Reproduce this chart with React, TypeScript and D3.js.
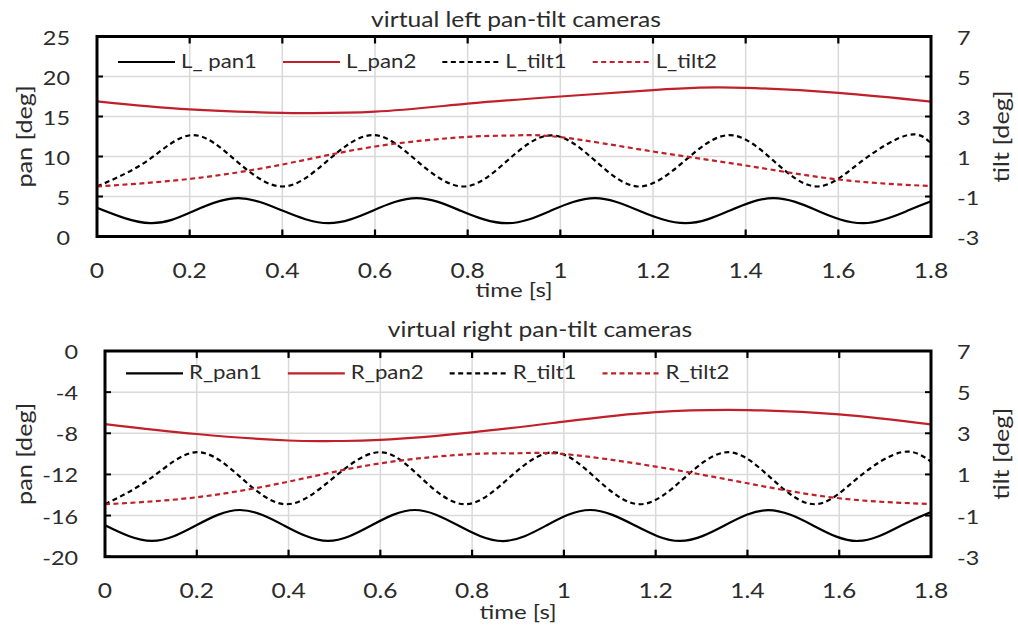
import React from "react";
import * as d3 from "d3";

// ---------- data ----------
const timeTicks = [0, 0.2, 0.4, 0.6, 0.8, 1, 1.2, 1.4, 1.6, 1.8];
const leftPanTicks = [0, 5, 10, 15, 20, 25];
const rightPanTicks = [-20, -16, -12, -8, -4, 0];
const tiltTicks = [-3, -1, 1, 3, 5, 7];

// virtual left pan-tilt cameras
const lPan1Time = [0, 0.115, 0.21, 0.305, 0.4, 0.5, 0.595, 0.69, 0.785, 0.885, 0.98, 1.075, 1.17, 1.27, 1.365, 1.46, 1.555, 1.655, 1.75, 1.8];
const lPan1 = [3.58, 1.67, 3.22, 4.79, 3.24, 1.67, 3.23, 4.8, 3.22, 1.66, 3.24, 4.79, 3.23, 1.67, 3.22, 4.8, 3.23, 1.67, 3.24, 4.4];
const lPan2Time = [0, 0.2, 0.4, 0.45, 0.6, 0.8, 1.0, 1.2, 1.3, 1.4, 1.6, 1.8];
const lPan2 = [16.9, 15.9, 15.45, 15.42, 15.6, 16.6, 17.5, 18.3, 18.6, 18.58, 17.95, 16.85];
const lTilt1Time = [0, 0.108, 0.205, 0.3, 0.4, 0.497, 0.595, 0.69, 0.79, 0.885, 0.98, 1.075, 1.17, 1.268, 1.365, 1.46, 1.555, 1.652, 1.75, 1.8];
const lTilt1 = [-0.5, 0.78, 2.07, 0.79, -0.5, 0.78, 2.07, 0.79, -0.5, 0.78, 2.06, 0.79, -0.5, 0.78, 2.07, 0.79, -0.5, 0.79, 2.07, 1.67];
const lTilt2Time = [0, 0.2, 0.4, 0.6, 0.8, 0.9, 1.0, 1.2, 1.4, 1.6, 1.8];
const lTilt2 = [-0.5, -0.12, 0.6, 1.5, 1.98, 2.05, 1.97, 1.25, 0.55, -0.15, -0.48];

// virtual right pan-tilt cameras
const rPan1Time = [0, 0.102, 0.198, 0.294, 0.39, 0.486, 0.58, 0.675, 0.77, 0.867, 0.962, 1.057, 1.155, 1.253, 1.35, 1.445, 1.543, 1.641, 1.735, 1.8];
const rPan1 = [-16.95, -18.47, -16.97, -15.46, -16.96, -18.47, -16.97, -15.46, -16.97, -18.48, -16.96, -15.46, -16.97, -18.47, -16.97, -15.47, -16.96, -18.47, -16.97, -15.65];
const rPan2Time = [0, 0.2, 0.4, 0.5, 0.6, 0.8, 1.0, 1.2, 1.4, 1.6, 1.8];
const rPan2 = [-7.1, -8.07, -8.7, -8.75, -8.65, -7.91, -6.87, -5.95, -5.74, -6.16, -7.13];
const rTilt1Time = [0, 0.1, 0.2, 0.298, 0.396, 0.497, 0.599, 0.69, 0.785, 0.88, 0.977, 1.07, 1.166, 1.262, 1.358, 1.452, 1.547, 1.64, 1.736, 1.8];
const rTilt1 = [-0.45, 0.82, 2.08, 0.81, -0.45, 0.82, 2.08, 0.81, -0.45, 0.82, 2.07, 0.81, -0.45, 0.82, 2.08, 0.81, -0.45, 0.82, 2.08, 1.62];
const rTilt2Time = [0, 0.2, 0.4, 0.6, 0.8, 0.9, 1.0, 1.2, 1.4, 1.6, 1.8];
const rTilt2 = [-0.45, -0.11, 0.65, 1.54, 1.99, 2.03, 1.99, 1.38, 0.57, -0.16, -0.44];

// ---------- style / layout ----------
const FONT = "Lato, 'Open Sans', sans-serif";
const SX = 1.2;
const RED = "#c0202a";
const TXT = "#2b2b2b";
const GRID = "#d9d9d9";

type Series = { name: string; t: number[]; v: number[]; color: string; dashed: boolean; axis: "pan" | "tilt" };

const panels = [
  {
    title: "virtual left pan-tilt cameras",
    titleX: 516, titleY: 26.7,
    left: 97, right: 931, top: 36.5, bottom: 236.5,
    panDomain: [0, 25], panTicks: leftPanTicks,
    legendY: 62,
    series: [
      { name: "L_ pan1", t: lPan1Time, v: lPan1, color: "#000", dashed: false, axis: "pan" },
      { name: "L_pan2", t: lPan2Time, v: lPan2, color: RED, dashed: false, axis: "pan" },
      { name: "L_tilt1", t: lTilt1Time, v: lTilt1, color: "#000", dashed: true, axis: "tilt" },
      { name: "L_tilt2", t: lTilt2Time, v: lTilt2, color: RED, dashed: true, axis: "tilt" },
    ] as Series[],
    timeLabelY: 297,
  },
  {
    title: "virtual right pan-tilt cameras",
    titleX: 540, titleY: 336.7,
    left: 105, right: 931, top: 351, bottom: 556.7,
    panDomain: [-20, 0], panTicks: rightPanTicks,
    legendY: 373.3,
    series: [
      { name: "R_pan1", t: rPan1Time, v: rPan1, color: "#000", dashed: false, axis: "pan" },
      { name: "R_pan2", t: rPan2Time, v: rPan2, color: RED, dashed: false, axis: "pan" },
      { name: "R_tilt1", t: rTilt1Time, v: rTilt1, color: "#000", dashed: true, axis: "tilt" },
      { name: "R_tilt2", t: rTilt2Time, v: rTilt2, color: RED, dashed: true, axis: "tilt" },
    ] as Series[],
    timeLabelY: 619,
  },
];

let measureCtx: CanvasRenderingContext2D | null = null;
function textWidth(s: string, size: number) {
  if (!measureCtx) measureCtx = document.createElement("canvas").getContext("2d");
  if (!measureCtx) return s.length * size * 0.5 * SX;
  measureCtx.font = `${size}px Lato`;
  return measureCtx.measureText(s).width * SX;
}

function T(props: { x: number; y: number; size: number; anchor?: string; rotate?: number; children: React.ReactNode }) {
  const { x, y, size, anchor = "start", rotate = 0, children } = props;
  const tr = `translate(${x},${y})` + (rotate ? ` rotate(${rotate})` : "") + ` scale(${SX},1)`;
  return (
    <text transform={tr} fontSize={size} textAnchor={anchor as any} fontFamily={FONT} fill={TXT}>
      {children}
    </text>
  );
}

function Panel({ p, idx }: { p: (typeof panels)[number]; idx: number }) {
  const x = d3.scaleLinear().domain([0, 1.8]).range([p.left, p.right]);
  const yPan = d3.scaleLinear().domain(p.panDomain).range([p.bottom, p.top]);
  const yTilt = d3.scaleLinear().domain([-3, 7]).range([p.bottom, p.top]);
  const clipId = `clip${idx}`;

  // legend layout
  const lineLen = 57, gapLT = 6, gapItems = 26, legFont = 18.5;
  let cx = p.left + 21;
  const legendItems = p.series.map((s) => {
    const item = { s, x0: cx, tx: cx + lineLen + gapLT };
    cx = item.tx + textWidth(s.name, legFont) + gapItems;
    return item;
  });

  return (
    <g>
      <defs>
        <clipPath id={clipId}>
          <rect x={p.left} y={p.top} width={p.right - p.left} height={p.bottom - p.top} />
        </clipPath>
      </defs>
      {/* gridlines */}
      {timeTicks.map((t) => (
        <line key={"gx" + t} x1={x(t)} x2={x(t)} y1={p.top} y2={p.bottom} stroke={GRID} strokeWidth={1.5} />
      ))}
      {p.panTicks.map((v) => (
        <line key={"gy" + v} x1={p.left} x2={p.right} y1={yPan(v)} y2={yPan(v)} stroke={GRID} strokeWidth={1.5} />
      ))}
      {/* series */}
      <g clipPath={`url(#${clipId})`}>
        {p.series.map((s) => {
          const ys = s.axis === "pan" ? yPan : yTilt;
          const pts = s.t.map((t, i) => [t, s.v[i]] as [number, number]);
          const gen = d3
            .line<[number, number]>()
            .x((d) => x(d[0]))
            .y((d) => ys(d[1]))
            .curve(d3.curveNatural);
          return (
            <path
              key={s.name}
              d={gen(pts) || ""}
              fill="none"
              stroke={s.color}
              strokeWidth={2.2}
              strokeDasharray={s.dashed ? "5,3.5" : undefined}
            />
          );
        })}
      </g>
      {/* legend */}
      {legendItems.map(({ s, x0, tx }) => (
        <g key={"leg" + s.name}>
          <line x1={x0} x2={x0 + lineLen} y1={p.legendY} y2={p.legendY} stroke={s.color} strokeWidth={2.2} strokeDasharray={s.dashed ? "5,3.5" : undefined} />
          <T x={tx} y={p.legendY + 6} size={legFont}>{s.name}</T>
        </g>
      ))}
      {/* border */}
      <rect x={p.left} y={p.top} width={p.right - p.left} height={p.bottom - p.top} fill="none" stroke="#000" strokeWidth={3} />
      {/* ticks */}
      {timeTicks.slice(1, -1).map((t) => (
        <g key={"tx" + t}>
          <line x1={x(t)} x2={x(t)} y1={p.bottom} y2={p.bottom - 7} stroke="#000" strokeWidth={2.2} />
          <line x1={x(t)} x2={x(t)} y1={p.top} y2={p.top + 7} stroke="#000" strokeWidth={2.2} />
        </g>
      ))}
      {p.panTicks.map((v) => (
        <line key={"tl" + v} x1={p.left} x2={p.left + 6} y1={yPan(v)} y2={yPan(v)} stroke="#000" strokeWidth={2} />
      ))}
      {tiltTicks.map((v) => (
        <line key={"tr" + v} x1={p.right} x2={p.right - 6} y1={yTilt(v)} y2={yTilt(v)} stroke="#000" strokeWidth={2} />
      ))}
      {/* tick labels */}
      {timeTicks.map((t) => (
        <T key={"xl" + t} x={x(t)} y={p.bottom + 41.5} size={20.5} anchor="middle">{d3.format("~g")(t)}</T>
      ))}
      {p.panTicks.map((v) => (
        <T key={"yl" + v} x={p.left - 27} y={yPan(v) + 8} size={19.5} anchor="end">{String(v)}</T>
      ))}
      {tiltTicks.map((v) => (
        <T key={"yr" + v} x={p.right + 26} y={yTilt(v) + 8} size={19.5}>{String(v)}</T>
      ))}
      {/* titles */}
      <T x={p.titleX} y={p.titleY} size={20.5} anchor="middle">{p.title}</T>
      <T x={(p.left + p.right) / 2} y={p.timeLabelY} size={20} anchor="middle">time [s]</T>
      <T x={31.5} y={(p.top + p.bottom) / 2} size={21} anchor="middle" rotate={-90}>pan [deg]</T>
      <T x={1009} y={(p.top + p.bottom) / 2} size={21} anchor="middle" rotate={-90}>tilt [deg]</T>
    </g>
  );
}

export default function App() {
  return (
    <svg width={1018} height={631} style={{ position: "absolute", left: 0, top: 0, background: "#fff" }}>
      <rect width={1018} height={631} fill="#fff" />
      {panels.map((p, i) => (
        <Panel key={i} p={p} idx={i} />
      ))}
    </svg>
  );
}
